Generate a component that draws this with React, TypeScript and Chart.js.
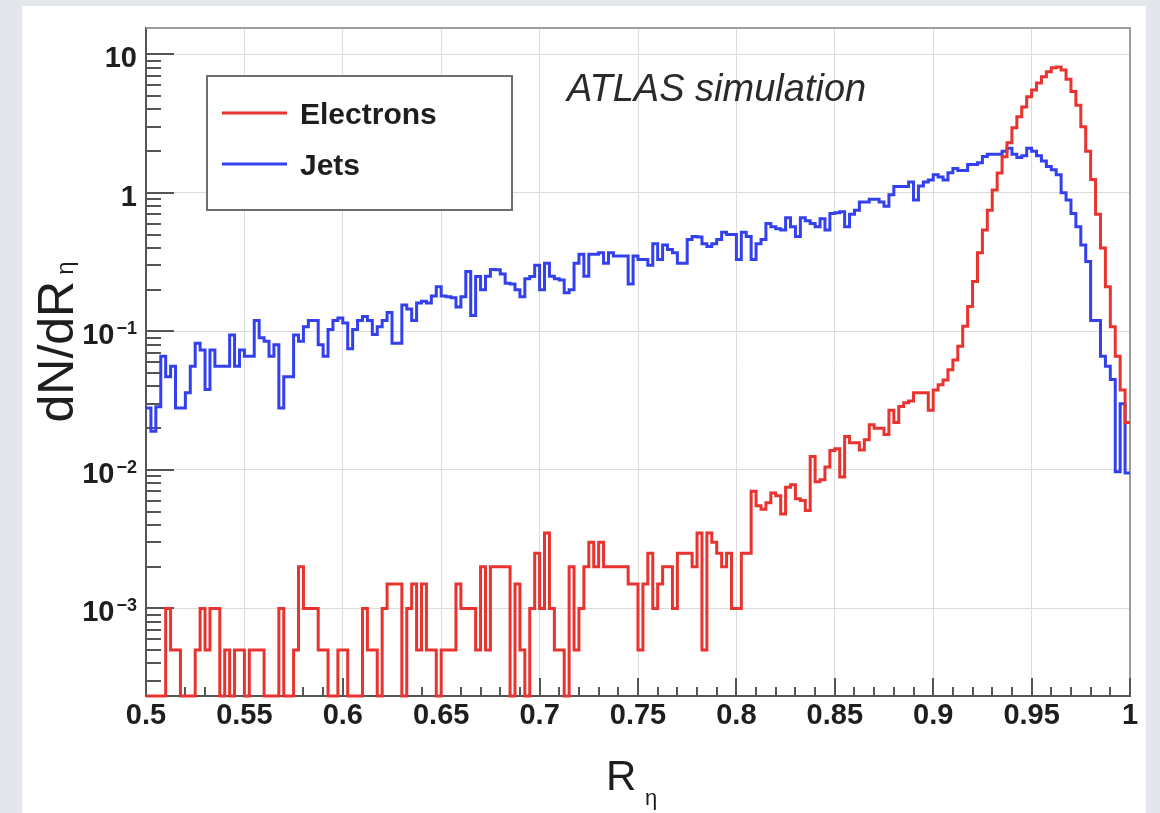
import React, { useEffect, useRef } from 'react';
import { Chart, registerables } from 'chart.js';

Chart.register(...registerables);

// ---- axis definition ----
const X_MIN = 0.5;
const X_MAX = 1.0;
const N_BINS = 200;
const Y_MIN = 2.33e-4;
const Y_MAX = 15.5;

const X_TICK_VALUES = [0.5, 0.55, 0.6, 0.65, 0.7, 0.75, 0.8, 0.85, 0.9, 0.95, 1.0];
const X_TICK_LABELS = ['0.5', '0.55', '0.6', '0.65', '0.7', '0.75', '0.8', '0.85', '0.9', '0.95', '1'];
const Y_TICK_VALUES = [1e-3, 1e-2, 1e-1, 1, 10];
const Y_TICK_MAIN = ['10', '10', '10', '1', '10'];
const Y_TICK_EXP = ['\u22123', '\u22122', '\u22121', '', ''];

const SERIES_NAMES = ['Electrons', 'Jets'];
const SERIES_COLORS = ['#e8332e', '#3340ee'];
const TEXT_LABEL = 'ATLAS simulation';
const X_TITLE = ['R', 'η'];
const Y_TITLE = ['dN/dR', 'η'];

// ---- histogram contents (one value per bin, 200 bins from 0.5 to 1.0) ----
const ELECTRONS = [
  0, 0, 0, 0, 0.001, 0.0005, 0.0005, 0, 0, 0,
  0.0005, 0.001, 0.0005, 0.001, 0.001, 0, 0.0005, 0, 0.0005, 0.0005,
  0, 0.0005, 0.0005, 0.0005, 0, 0, 0, 0.001, 0, 0,
  0.0005, 0.002, 0.001, 0.001, 0.001, 0.0005, 0.0005, 0, 0, 0.0005,
  0.0005, 0, 0, 0, 0.001, 0.0005, 0.0005, 0, 0.001, 0.0015,
  0.0015, 0.0015, 0, 0.001, 0.0015, 0.0005, 0.0015, 0.0005, 0.0005, 0,
  0.0005, 0.0005, 0.0005, 0.0015, 0.001, 0.001, 0.001, 0.0005, 0.002, 0.0005,
  0.002, 0.002, 0.002, 0.002, 0, 0.0015, 0.0005, 0, 0.001, 0.0025,
  0.001, 0.0035, 0.001, 0.0005, 0.0005, 0, 0.002, 0.0005, 0.001, 0.002,
  0.003, 0.002, 0.003, 0.002, 0.002, 0.002, 0.002, 0.002, 0.0015, 0.0015,
  0.0005, 0.0015, 0.0025, 0.001, 0.0015, 0.002, 0.002, 0.001, 0.0025, 0.0025,
  0.0025, 0.002, 0.0035, 0.0005, 0.0035, 0.003, 0.0025, 0.002, 0.0025, 0.001,
  0.001, 0.0025, 0.0025, 0.007, 0.0055, 0.0052, 0.0058, 0.0068, 0.0065, 0.0048,
  0.0075, 0.0078, 0.0062, 0.006, 0.0051, 0.0125, 0.0082, 0.0085, 0.0105, 0.0138,
  0.0142, 0.0089, 0.0174, 0.0157, 0.0157, 0.0139, 0.0165, 0.0212, 0.02, 0.02,
  0.018, 0.027, 0.022, 0.0287, 0.0305, 0.0314, 0.036, 0.036, 0.036, 0.027,
  0.0377, 0.0412, 0.0446, 0.0528, 0.062, 0.078, 0.109, 0.151, 0.229, 0.37,
  0.54, 0.75, 1.05, 1.39, 1.82, 2.3, 2.95, 3.54, 4.17, 4.94,
  5.54, 6.2, 6.9, 7.5, 8.0, 8.1, 7.7, 6.6, 5.4, 4.3,
  3.0, 2.0, 1.25, 0.7, 0.4, 0.21, 0.108, 0.066, 0.0377, 0.022,
];

const JETS = [
  0.028, 0.019, 0.0286, 0.066, 0.047, 0.056, 0.028, 0.028, 0.036, 0.056,
  0.082, 0.0735, 0.038, 0.0735, 0.056, 0.056, 0.056, 0.094, 0.056, 0.0735,
  0.066, 0.066, 0.12, 0.09, 0.085, 0.066, 0.08, 0.028, 0.047, 0.047,
  0.094, 0.085, 0.108, 0.12, 0.12, 0.08, 0.066, 0.103, 0.12, 0.125,
  0.115, 0.075, 0.103, 0.12, 0.128, 0.12, 0.095, 0.108, 0.12, 0.137,
  0.082, 0.082, 0.155, 0.145, 0.12, 0.16, 0.165, 0.16, 0.18, 0.21,
  0.18, 0.178, 0.175, 0.15, 0.178, 0.27, 0.13, 0.249, 0.2, 0.25,
  0.28, 0.278, 0.26, 0.223, 0.22, 0.2, 0.178, 0.24, 0.249, 0.3,
  0.2, 0.31, 0.25, 0.24, 0.235, 0.19, 0.2, 0.31, 0.36, 0.25,
  0.36, 0.36, 0.37, 0.31, 0.37, 0.35, 0.35, 0.35, 0.22, 0.35,
  0.33, 0.33, 0.3, 0.43, 0.33, 0.42, 0.39, 0.37, 0.31, 0.31,
  0.46, 0.485, 0.48, 0.43, 0.41, 0.43, 0.46, 0.52, 0.5, 0.5,
  0.33, 0.52, 0.485, 0.33, 0.43, 0.46, 0.6, 0.57, 0.55, 0.54,
  0.66, 0.57, 0.485, 0.66, 0.63, 0.6, 0.57, 0.65, 0.54, 0.71,
  0.72, 0.73, 0.57, 0.7, 0.75, 0.86, 0.86, 0.9, 0.9, 0.86,
  0.8, 0.97, 1.11, 1.11, 1.11, 1.2, 0.89, 1.12, 1.2, 1.24,
  1.35, 1.3, 1.24, 1.4, 1.5, 1.45, 1.45, 1.6, 1.6, 1.65,
  1.83, 1.9, 1.9, 1.9, 2.0, 2.1, 1.9, 1.8, 1.85, 2.1,
  2.0, 1.85, 1.7, 1.55, 1.47, 1.35, 1.0, 0.89, 0.71, 0.57,
  0.42, 0.32, 0.12, 0.12, 0.066, 0.056, 0.045, 0.0097, 0.03, 0.0095,
];

const BIN_EDGES = Array.from({ length: N_BINS + 1 }, (_, i) => X_MIN + (i * (X_MAX - X_MIN)) / N_BINS);

// histogram outline: one point at each left bin edge, plus the closing right edge
function toSteps(vals: number[]) {
  const pts = vals.map((v, i) => ({ x: BIN_EDGES[i], y: Math.max(v, Y_MIN) }));
  pts.push({ x: BIN_EDGES[N_BINS], y: Math.max(vals[N_BINS - 1], Y_MIN) });
  return pts;
}

const FONT = "'Liberation Sans', Arial, Helvetica, sans-serif";
const TEXT_COLOR = '#1e1e1e';

const rootDecor = {
  id: 'rootDecor',
  beforeDatasetsDraw(chart: any) {
    const { ctx, chartArea: a, scales } = chart;
    const xs = scales.x;
    const ys = scales.y;
    ctx.save();
    // top / right frame
    ctx.strokeStyle = '#9c9c9c';
    ctx.lineWidth = 2;
    ctx.beginPath();
    ctx.moveTo(a.left, a.top);
    ctx.lineTo(a.right, a.top);
    ctx.lineTo(a.right, a.bottom);
    ctx.stroke();

    // inward x ticks
    ctx.strokeStyle = '#555';
    ctx.lineWidth = 2;
    ctx.beginPath();
    for (let k = 0; k <= 50; k++) {
      const v = X_MIN + k * 0.01;
      const px = Math.round(xs.getPixelForValue(v));
      const len = k % 5 === 0 ? 18 : 9;
      ctx.moveTo(px, a.bottom);
      ctx.lineTo(px, a.bottom - len);
    }
    // inward y ticks (log)
    for (let e = -4; e <= 1; e++) {
      for (let m = 1; m <= 9; m++) {
        const v = m * Math.pow(10, e);
        if (v < ys.min || v > ys.max) continue;
        const py = Math.round(ys.getPixelForValue(v));
        const len = m === 1 ? 28 : 15;
        ctx.moveTo(a.left, py);
        ctx.lineTo(a.left + len, py);
      }
    }
    ctx.stroke();
    ctx.restore();
  },
  afterDraw(chart: any) {
    const { ctx, scales } = chart;
    const ys = scales.y;
    ctx.save();
    ctx.fillStyle = TEXT_COLOR;

    // y tick labels with superscripts
    const mainFont = `bold 29px ${FONT}`;
    const supFont = `bold 18px ${FONT}`;
    Y_TICK_VALUES.forEach((v, i) => {
      const py = ys.getPixelForValue(v);
      const right = 137;
      ctx.textBaseline = 'alphabetic';
      ctx.textAlign = 'right';
      let expW = 0;
      if (Y_TICK_EXP[i]) {
        ctx.font = supFont;
        expW = ctx.measureText(Y_TICK_EXP[i]).width;
        ctx.fillText(Y_TICK_EXP[i], right, py + 3);
        expW += 2;
      }
      ctx.font = mainFont;
      ctx.fillText(Y_TICK_MAIN[i], right - expW, py + 13);
    });

    // legend
    ctx.fillStyle = '#ffffff';
    ctx.fillRect(207, 76, 305, 134);
    ctx.strokeStyle = '#6e6e6e';
    ctx.lineWidth = 2;
    ctx.strokeRect(207, 76, 305, 134);
    const rows = [113, 164];
    chart.data.datasets.forEach((ds: any, i: number) => {
      const yy = rows[i];
      ctx.strokeStyle = ds.borderColor;
      ctx.lineWidth = 3;
      ctx.beginPath();
      ctx.moveTo(222, yy);
      ctx.lineTo(287, yy);
      ctx.stroke();
      ctx.fillStyle = TEXT_COLOR;
      ctx.font = `bold 30px ${FONT}`;
      ctx.textAlign = 'left';
      ctx.textBaseline = 'alphabetic';
      ctx.fillText(ds.label, 300, yy + 11);
    });

    // ATLAS simulation
    ctx.fillStyle = '#2a2a2a';
    ctx.font = `italic 38px ${FONT}`;
    ctx.textAlign = 'left';
    ctx.fillText(TEXT_LABEL, 567, 101);

    // x title
    ctx.fillStyle = TEXT_COLOR;
    ctx.font = `42px ${FONT}`;
    ctx.fillText(X_TITLE[0], 606, 790);
    ctx.font = `22px ${FONT}`;
    ctx.fillText(X_TITLE[1], 645, 805);

    // y title (rotated)
    ctx.save();
    ctx.translate(73, 342);
    ctx.rotate(-Math.PI / 2);
    ctx.font = `50px ${FONT}`;
    const w1 = ctx.measureText(Y_TITLE[0]).width;
    ctx.font = `24px ${FONT}`;
    const w2 = ctx.measureText(Y_TITLE[1]).width;
    const x0 = -(w1 + 6 + w2) / 2;
    ctx.font = `50px ${FONT}`;
    ctx.fillText(Y_TITLE[0], x0, 0);
    ctx.font = `24px ${FONT}`;
    ctx.fillText(Y_TITLE[1], x0 + w1 + 6, 0);
    ctx.restore();

    ctx.restore();
  },
};

export default function App() {
  const ref = useRef<HTMLCanvasElement>(null);
  useEffect(() => {
    document.body.style.margin = '0';
    const canvas = ref.current;
    if (!canvas) return;
    const chart = new Chart(canvas, {
      type: 'line',
      data: {
        datasets: [
          {
            label: SERIES_NAMES[0],
            data: toSteps(ELECTRONS),
            borderColor: SERIES_COLORS[0],
            borderWidth: 3,
            stepped: true,
            pointRadius: 0,
            fill: false,
            clip: false,
            borderJoinStyle: 'miter',
          },
          {
            label: SERIES_NAMES[1],
            data: toSteps(JETS),
            borderColor: SERIES_COLORS[1],
            borderWidth: 3,
            stepped: true,
            pointRadius: 0,
            fill: false,
            clip: false,
            borderJoinStyle: 'miter',
          },
        ],
      },
      options: {
        responsive: false,
        animation: false,
        devicePixelRatio: 1,
        layout: { padding: { top: 28, right: 30, left: 0, bottom: 0 } },
        plugins: { legend: { display: false }, tooltip: { enabled: false }, title: { display: false } },
        scales: {
          x: {
            type: 'linear',
            min: X_MIN,
            max: X_MAX,
            afterFit: (s: any) => { s.height = 117; },
            afterBuildTicks: (s: any) => { s.ticks = X_TICK_VALUES.map((v) => ({ value: v })); },
            ticks: {
              autoSkip: false,
              maxRotation: 0,
              padding: 3,
              color: TEXT_COLOR,
              font: { family: FONT, size: 29, weight: 'bold' },
              callback: (_v: any, i: number) => X_TICK_LABELS[i],
            },
            grid: { color: '#dcdcdc', lineWidth: 1, drawTicks: false },
            border: { display: true, color: '#555', width: 2 },
          },
          y: {
            type: 'logarithmic',
            min: Y_MIN,
            max: Y_MAX,
            afterFit: (s: any) => { s.width = 146; },
            afterBuildTicks: (s: any) => { s.ticks = Y_TICK_VALUES.map((v) => ({ value: v })); },
            ticks: { display: false },
            grid: { color: '#dcdcdc', lineWidth: 1, drawTicks: false },
            border: { display: true, color: '#555', width: 2 },
          },
        },
      } as any,
      plugins: [rootDecor],
    } as any);
    return () => chart.destroy();
  }, []);

  return (
    <div style={{ position: 'fixed', left: 0, top: 0, width: 1160, height: 813, background: '#e3e6ea', overflow: 'hidden' }}>
      <div style={{ position: 'absolute', left: 22, top: 6, width: 1124, height: 820, background: '#ffffff' }} />
      <canvas ref={ref} width={1160} height={813} style={{ position: 'absolute', left: 0, top: 0, width: 1160, height: 813 }} />
    </div>
  );
}
